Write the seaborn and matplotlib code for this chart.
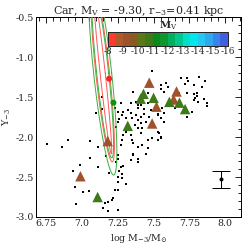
import numpy as np
import seaborn as sns
import matplotlib as mpl
import matplotlib.pyplot as plt
from matplotlib.colors import ListedColormap, BoundaryNorm
from matplotlib.ticker import MultipleLocator

# black points: log mass, Y_-3
dot_mass = [7.49, 7.36, 7.55, 7.59, 7.60, 7.41, 7.46, 7.38, 7.41, 7.46, 7.39, 7.43, 7.48,
            7.27, 7.14, 7.10, 7.25, 7.29, 7.28, 7.26, 7.31, 7.34, 7.35, 7.38, 7.39, 7.41,
            7.43, 7.41, 7.45, 7.47, 7.37, 7.39, 7.42, 7.41, 7.25, 7.24, 7.34, 7.35, 7.36,
            7.39, 7.29, 7.28, 7.27, 7.55, 7.57, 7.53, 7.53, 7.49, 7.55, 7.46, 6.90, 7.06,
            6.86, 7.11, 7.17, 7.06, 7.36, 7.39, 7.46, 7.25, 7.25, 7.24, 7.27, 7.28, 7.11,
            6.94, 7.34, 7.28, 7.69, 7.73, 7.74, 7.82, 7.86, 7.55, 7.57, 7.72, 7.78, 7.84,
            7.73, 7.78, 7.80, 7.80, 7.79, 7.78, 7.81, 7.85, 7.87, 7.87, 7.68, 7.65, 7.77,
            7.73, 7.51, 7.56, 7.53, 7.57, 7.54, 7.55, 7.53, 7.42, 7.45, 6.76, 6.99, 6.95,
            7.01, 7.05, 6.96, 7.23, 7.21, 7.18, 7.25, 7.25, 7.25, 7.26, 7.19, 7.31, 7.29,
            7.16, 7.22, 7.25, 7.18, 7.15, 7.31, 7.36, 7.39, 7.14, 7.23, 7.32, 7.39, 7.34]
dot_y = [-1.18, -1.44, -1.35, -1.33, -1.38, -1.50, -1.45, -1.56, -1.60, -1.58, -1.64, -1.65, -1.66,
         -1.58, -1.65, -1.70, -1.69, -1.69, -1.73, -1.78, -1.76, -1.70, -1.76, -1.73, -1.79, -1.75,
         -1.71, -1.83, -1.81, -1.75, -1.85, -1.89, -1.89, -1.95, -1.81, -1.88, -1.98, -2.04, -2.08,
         -2.13, -1.98, -2.04, -2.10, -1.76, -1.70, -1.73, -1.94, -2.01, -2.01, -2.04, -2.04, -2.05,
         -2.13, -2.13, -2.24, -2.26, -2.23, -2.28, -2.14, -2.23, -2.28, -2.31, -2.38, -2.46, -2.38,
         -2.43, -2.29, -2.51, -1.26, -1.26, -1.30, -1.25, -1.30, -1.40, -1.44, -1.34, -1.35, -1.38,
         -1.45, -1.46, -1.45, -1.49, -1.51, -1.54, -1.56, -1.53, -1.58, -1.61, -1.45, -1.64, -1.69,
         -1.75, -1.66, -1.64, -1.71, -1.81, -1.95, -2.00, -2.04, -2.10, -2.21, -2.09, -2.35, -2.63,
         -2.69, -2.68, -2.84, -2.66, -2.79, -2.81, -2.66, -2.56, -2.50, -2.43, -2.45, -2.59, -2.36,
         -2.83, -2.76, -2.91, -2.93, -2.89, -1.94, -2.21, -2.31, -1.50, -1.64, -1.66, -1.60, -1.58]

# triangles and their M_V
tri_mass = [7.47, 7.66, 7.64, 7.52, 7.49, 7.18, 6.99,
            7.43, 7.41, 7.50, 7.61, 7.68, 7.72, 7.32, 7.11]
tri_y = [-1.32, -1.43, -1.53, -1.62, -1.83, -2.05, -2.49,
         -1.46, -1.52, -1.51, -1.56, -1.57, -1.65, -1.86, -2.75]
tri_mv = [-9.2, -9.2, -9.2, -9.2, -9.2, -9.2, -9.2,
          -10.7, -10.7, -10.7, -10.7, -10.7, -10.7, -10.7, -10.7]

# best-fit points
best_mass = [7.19, 7.22]
best_y = [-1.27, -1.57]
best_col = ["#ff2020", "#109010"]

# confidence ellipses (centre, half width, half length, shear)
ell_mx = [7.145, 7.145, 7.145, 7.145]
ell_my = [-1.2, -1.2, -1.2, -1.2]
ell_w = [0.048, 0.018, 0.063, 0.042]
ell_l = [1.11, 1.01, 1.275, 1.06]
ell_k = [-0.06, -0.06, -0.06, -0.06]
ell_col = ["#ff5a5a", "#ff5a5a", "#3fb03f", "#3fb03f"]

# typical error bar
err_mass, err_y, err_dy = 7.97, -2.53, 0.11

# M_V colour scale
mv_bounds = list(np.arange(-16, -7.9, 0.5))
mv_colors = ["#4060e0", "#3585ee", "#30a8f0", "#22c8f2", "#00e6ea", "#00e0c8",
             "#00c88c", "#00b060", "#10962a", "#0a8a1a", "#3f7a1a", "#5a7a1a",
             "#8a5a22", "#a0522d", "#b05a2a", "#ff3b30"]
mv_ticks = [-8, -9, -10, -11, -12, -13, -14, -15, -16]

xticks = [6.75, 7.0, 7.25, 7.5, 7.75, 8.0]
xtick_labels = ["6.75", "7.0", "7.25", "7.5", "7.75", "8.0"]
yticks = [-3.0, -2.5, -2.0, -1.5, -1.0, -0.5]
ytick_labels = ["-3.0", "-2.5", "-2.0", "-1.5", "-1.0", "-0.5"]

sns.set_style("white")
plt.rcParams["font.family"] = ["DejaVu Serif"]
plt.rcParams["mathtext.fontset"] = "dejavuserif"
plt.rcParams["axes.unicode_minus"] = False

cmap = ListedColormap(mv_colors)
norm = BoundaryNorm(mv_bounds, cmap.N)

fig = plt.figure(figsize=(248 / 72, 248 / 72), dpi=72)
ax = fig.add_axes([0.145, 0.125, 0.827, 0.806])

sns.scatterplot(x=dot_mass, y=dot_y, ax=ax, color="black", s=5, marker="s",
                linewidth=0, zorder=2)

for mx, my, w, l, k, c in zip(ell_mx, ell_my, ell_w, ell_l, ell_k, ell_col):
    t = np.linspace(0, 2 * np.pi, 300)
    yy = my + l * np.sin(t)
    xx = mx + k * (yy - my) + w * np.cos(t)
    ax.plot(xx, yy, color=c, lw=1, zorder=3)

sns.scatterplot(x=tri_mass, y=tri_y, hue=tri_mv, palette=cmap, hue_norm=norm,
                ax=ax, marker="^", s=110, linewidth=0, legend=False, zorder=4)
ax.scatter(best_mass, best_y, c=best_col, s=36, linewidths=0, zorder=5)

ax.errorbar([err_mass], [err_y], yerr=[err_dy], fmt="o", ms=3, color="black",
            capsize=9, elinewidth=1, capthick=1, zorder=5)

ax.set_xlim(6.68, 8.11)
ax.set_ylim(-3.0, -0.5)
ax.set_xticks(xticks)
ax.set_xticklabels(xtick_labels)
ax.set_yticks(yticks)
ax.set_yticklabels(ytick_labels)
ax.xaxis.set_minor_locator(MultipleLocator(0.05))
ax.yaxis.set_minor_locator(MultipleLocator(0.1))
ax.tick_params(which="both", direction="in", top=True, right=True, width=1,
               labelsize=9.5, pad=2)
ax.tick_params(which="major", length=6)
ax.tick_params(which="minor", length=3.5)
for s in ax.spines.values():
    s.set_linewidth(1)
    s.set_color("black")

ax.set_xlabel(r"log M$_{-3}$/M$_{\odot}$", fontsize=9.5, labelpad=4)
ax.set_ylabel(r"Y$_{-3}$", fontsize=9.5, labelpad=3)
ax.set_title(r"Car, M$_\mathrm{V}$ = -9.30, r$_{-3}$=0.41 kpc", fontsize=11, pad=3)

cax = fig.add_axes([0.435, 0.815, 0.484, 0.056])
sm = mpl.cm.ScalarMappable(cmap=cmap, norm=norm)
cb = fig.colorbar(sm, cax=cax, orientation="horizontal", ticks=mv_ticks)
cax.set_xlim(-8, -16)
cb.set_ticks(mv_ticks)
cb.set_ticklabels([str(v) for v in mv_ticks])
cax.tick_params(direction="in", length=7, width=1, labelsize=9, pad=1, color="black")
cax.minorticks_off()
cb.outline.set_linewidth(1)
cax.set_title(r"M$_\mathrm{V}$", fontsize=10, pad=0, fontweight="bold")

fig.savefig("out.png", dpi=72)
